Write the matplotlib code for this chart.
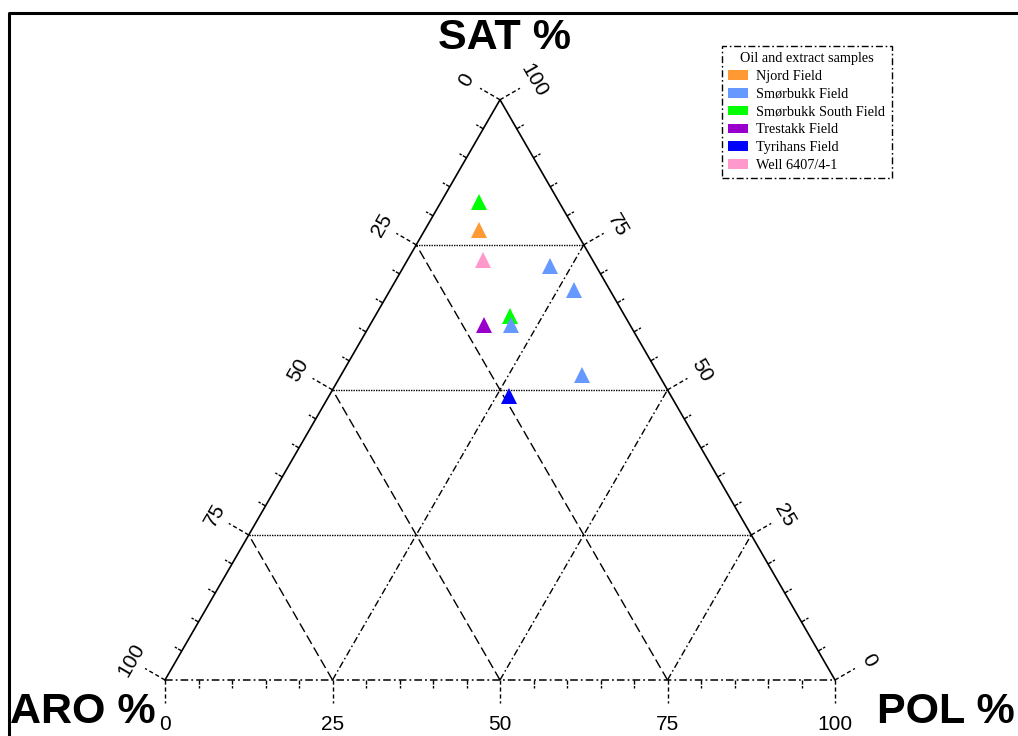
import numpy as np
import matplotlib.pyplot as plt
from matplotlib.patches import Patch
from matplotlib.lines import Line2D

# ---- data (percent) ----
groups = ['Njord Field', 'Smørbukk Field', 'Smørbukk South Field',
          'Trestakk Field', 'Tyrihans Field', 'Well 6407/4-1']
colors = ['#ff9933', '#6699ff', '#00ff00', '#9900cc', '#0000ff', '#ff99cc']
sat = [[77.6], [71.4, 67.2, 61.1, 52.6], [82.4, 62.7], [61.1], [49.0], [72.4]]
pol = [[8.1], [21.7, 27.4, 21.1, 35.9], [5.7, 20.1], [17.1], [26.9], [11.2]]
major_ticks = [0, 25, 50, 75, 100]
minor_ticks = [5, 10, 15, 20, 30, 35, 40, 45, 55, 60, 65, 70, 80, 85, 90, 95]

H = np.sqrt(3) / 2
PX = 1 / 670.0  # one pixel in data units


def xy(s, p):
    s = np.asarray(s, dtype=float) / 100
    p = np.asarray(p, dtype=float) / 100
    return p + s / 2, s * H


fig = plt.figure(figsize=(10.18, 7.36), dpi=100)
ax = fig.add_axes([0, 0, 1, 1])
ax.set_xlim(-165 * PX, (1018 - 165) * PX)
ax.set_ylim(-(736 - 680) * PX, 680 * PX)
ax.axis('off')

dashdot = (0, (5, 2, 1.2, 2))
longdash = (0, (7, 3))
dotted = (0, (1, 0.8))

# triangle edges
ax.plot([0, 0.5, 1], [0, H, 0], color='k', lw=1.2, zorder=3)
ax.plot([0, 1], [0, 0], color='k', lw=1.1, ls=dashdot, zorder=3)

# grid lines
for v in [25, 50, 75]:
    x, y = xy([v, v], [0, 100 - v])
    ax.plot(x, y, color='k', lw=1.0, ls=dotted, zorder=2)   # SAT const
    x, y = xy([0, 100 - v], [v, v])
    ax.plot(x, y, color='k', lw=1.0, ls=dashdot, zorder=2)  # POL const
    x, y = xy([0, 100 - v], [100 - v, 0])
    ax.plot(x, y, color='k', lw=1.0, ls=longdash, zorder=2)  # ARO const

# ticks: (position function, outward direction, label rotation)
c30, s30 = np.cos(np.pi / 6), np.sin(np.pi / 6)
sides = [
    (lambda t: xy(0, t), (0, -1), 0),            # POL along bottom
    (lambda t: xy(100 - t, 0), (-c30, s30), 60),  # ARO along left
    (lambda t: xy(t, 100 - t), (c30, s30), -60),  # SAT along right
]
for pos, (dx, dy), rot in sides:
    for t in minor_ticks:
        x0, y0 = pos(t)
        ax.plot([x0, x0 + dx * 8 * PX], [y0, y0 + dy * 8 * PX], color='k',
                lw=1.0, ls=(0, (3, 1)), zorder=3)
    for t in major_ticks:
        x0, y0 = pos(t)
        ax.plot([x0, x0 + dx * 23 * PX], [y0, y0 + dy * 23 * PX], color='k',
                lw=1.0, ls=(0, (3, 2)), zorder=3)
        d = 44 if rot == 0 else 39
        ax.text(x0 + dx * d * PX, y0 + dy * d * PX, str(t), rotation=rot,
                ha='center', va='center', fontsize=15, family='Liberation Sans',
                rotation_mode='anchor')

# samples
for g, c, s, p in list(zip(groups, colors, sat, pol))[::-1]:
    x, y = xy(s, p)
    ax.plot(x, y, ls='none', marker='^', ms=11, mew=0, color=c, zorder=5)

# axis titles
fig.text(505 / 1018, 1 - 38 / 736, 'SAT %', ha='center', va='center',
         fontsize=31, fontweight='bold', family='Liberation Sans')
fig.text(10 / 1018, 1 - 712 / 736, 'ARO %', ha='left', va='center',
         fontsize=31, fontweight='bold', family='Liberation Sans')
fig.text(1015 / 1018, 1 - 712 / 736, 'POL %', ha='right', va='center',
         fontsize=31, fontweight='bold', family='Liberation Sans')

# legend
handles = [Patch(facecolor=c, edgecolor='none', label=g) for g, c in zip(groups, colors)]
leg = ax.legend(handles=handles, title='Oil and extract samples',
                loc='upper left', bbox_to_anchor=(722 / 1018, 1 - 46 / 736),
                bbox_transform=fig.transFigure, borderaxespad=0,
                fancybox=False, framealpha=1,
                edgecolor='k', prop={'family': 'Liberation Serif', 'size': 10.3},
                title_fontproperties={'family': 'Liberation Serif', 'size': 10.3},
                handlelength=1.35, handleheight=0.65, handletextpad=0.6,
                labelspacing=0.33, borderpad=0.45)
leg.get_frame().set_linestyle(dashdot)
leg.get_frame().set_linewidth(1.0)

# figure border (top and left only visible)
fig.add_artist(Line2D([8.5 / 1018, 8.5 / 1018, 1.1], [-0.1, 1 - 12.5 / 736, 1 - 12.5 / 736],
                      transform=fig.transFigure, color='k', lw=2.2))

fig.savefig('out.png', dpi=100)
